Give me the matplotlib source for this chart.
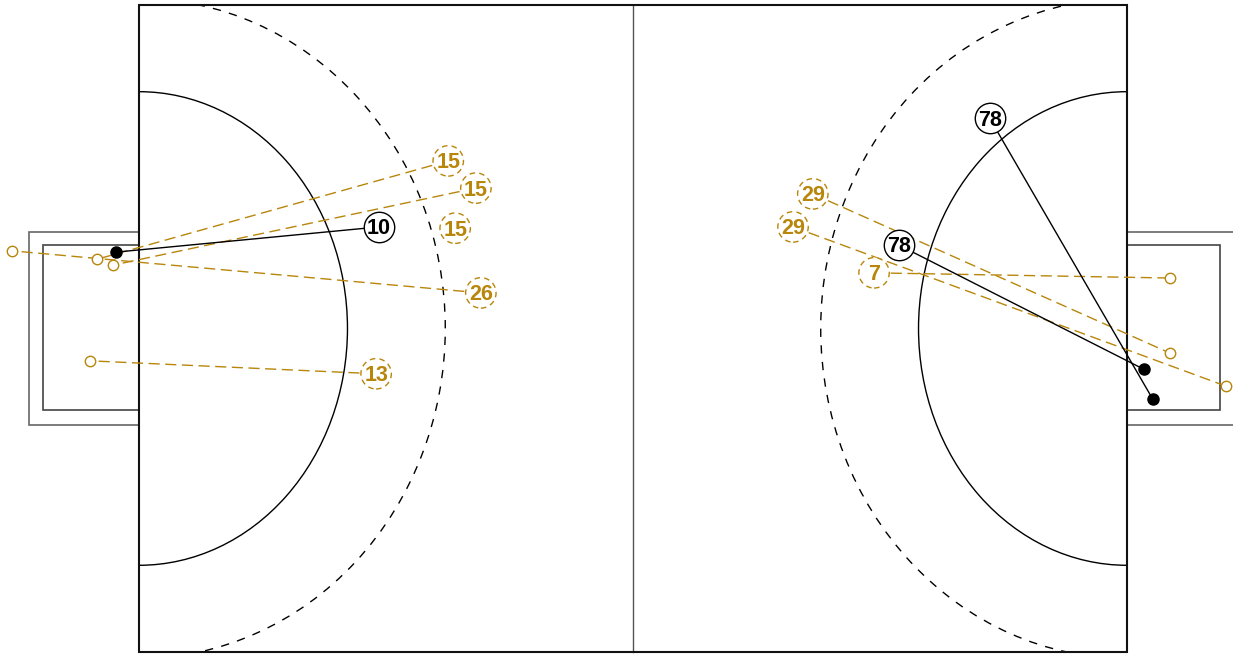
import matplotlib.pyplot as plt
import numpy as np
from matplotlib.patches import Arc, Rectangle

plt.rcParams['font.family'] = ['Liberation Sans', 'DejaVu Sans']

# Shot data (pitch coords: x 0-100 left->right, y 0-100 bottom->top)
shot_number = [15, 15, 15, 26, 13, 10, 29, 29, 7, 78, 78]
shot_x = [31.3, 34.1, 32.0, 34.6, 24.0, 24.3, 68.2, 66.2, 74.4, 86.1, 76.9]
shot_y = [75.9, 71.7, 65.5, 55.5, 43.0, 65.7, 70.8, 65.7, 58.6, 82.5, 62.9]
end_x = [-4.25, -2.6, np.nan, -12.85, -4.95, -2.35, 104.35, 110.0, 104.35, 102.6, 101.7]
end_y = [60.7, 59.8, np.nan, 62.0, 45.0, 61.8, 46.2, 41.1, 57.8, 39.1, 43.7]
is_goal = [False, False, False, False, False, True, False, False, False, True, True]

gold = '#B8860B'

fig = plt.figure(figsize=(12.33, 6.54), dpi=100)
ax = fig.add_axes([0, 0, 1, 1])
ax.set_xlim(-14.07, 110.73)
ax.set_ylim(-0.31, 100.77)
ax.axis('off')

# Pitch
border = Rectangle((0, 0), 100, 100, fill=False, ec='#111111', lw=1.5, zorder=2)
ax.add_patch(border)
ax.plot([50, 50], [0, 100], color='#555555', lw=1, zorder=1)

for cx, t1, t2 in [(0, -90, 90), (100, 90, 270)]:
    ax.add_patch(Arc((cx, 50), 2 * 21.1, 2 * 36.6, theta1=t1, theta2=t2,
                     color='black', lw=1, zorder=1))
    dashed = Arc((cx, 50), 2 * 31.0, 2 * 51.0, theta1=t1, theta2=t2,
                 color='black', lw=1, linestyle=(0, (6, 6)), zorder=1)
    ax.add_patch(dashed)
    dashed.set_clip_path(border)

# Goals
ax.add_patch(Rectangle((-11.1, 35.1), 11.1, 29.8, fill=False, ec='#666666', lw=1.2))
ax.add_patch(Rectangle((-9.7, 37.4), 9.7, 25.5, fill=False, ec='#444444', lw=1.2))
ax.add_patch(Rectangle((100, 35.1), 11.1, 29.8, fill=False, ec='#666666', lw=1.2))
ax.add_patch(Rectangle((100, 37.4), 9.4, 25.5, fill=False, ec='#444444', lw=1.2))

# Shots
for n, x, y, ex, ey, g in zip(shot_number, shot_x, shot_y, end_x, end_y, is_goal):
    col = 'black' if g else gold
    if not np.isnan(ex):
        if g:
            ax.plot([x, ex], [y, ey], color='black', lw=1, zorder=3)
            ax.plot(ex, ey, 'o', ms=8, color='black', zorder=4)
        else:
            ax.plot([x, ex], [y, ey], color=gold, lw=1, linestyle=(0, (8, 4)), zorder=3)
            ax.plot(ex, ey, 'o', ms=7.5, mfc='white', mec=gold, mew=1, zorder=4)
    ax.scatter(x, y, s=480, facecolor='white', edgecolor=col, lw=1,
               linestyle='-' if g else (0, (4, 3)), zorder=5)
    ax.text(x, y - 0.3, str(n), ha='center', va='center', fontsize=15.5,
            fontweight='bold', color=col, zorder=6)

fig.savefig('out.png', dpi=100, facecolor='white')
